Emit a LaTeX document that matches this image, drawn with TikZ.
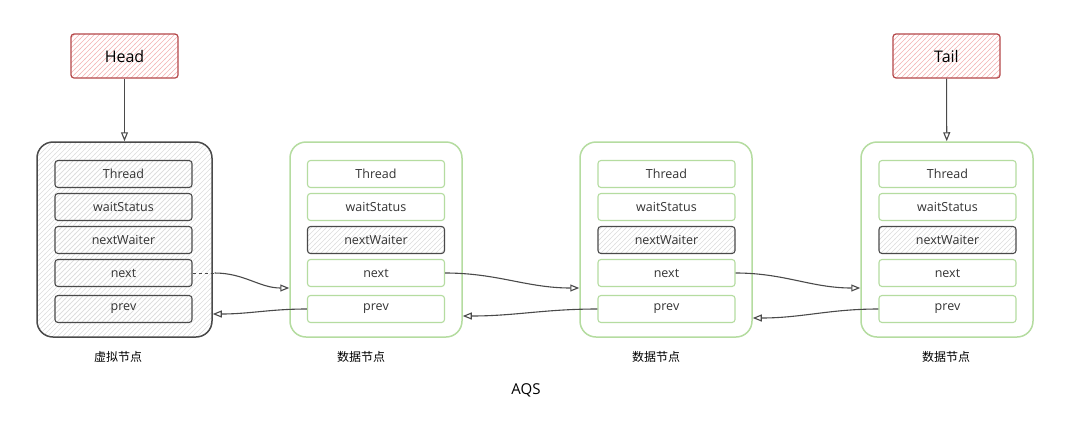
\documentclass[tikz,border=0pt]{standalone}
\usepackage{fontspec}
\setmainfont{Open Sans}
\newfontfamily\cjk{Noto Sans CJK SC}
\usetikzlibrary{arrows.meta,patterns}
\definecolor{headred}{HTML}{B5484A}
\definecolor{headhatch}{HTML}{F4B4B4}
\definecolor{datagreen}{HTML}{B5DCA0}
\definecolor{inkgray}{HTML}{4A4A4A}
\definecolor{greyhatch}{HTML}{DEDEDE}
\definecolor{txt}{HTML}{333333}
\pgfdeclarepatternformonly{hatchlines}{\pgfpoint{-1pt}{-1pt}}{\pgfpoint{6pt}{6pt}}{\pgfpoint{5pt}{5pt}}
  {\pgfsetlinewidth{0.6pt}
   \pgfpathmoveto{\pgfpoint{-0.5pt}{-0.5pt}}\pgfpathlineto{\pgfpoint{5.5pt}{5.5pt}}
   \pgfusepath{stroke}}

\begin{document}
\begin{tikzpicture}[x=1pt,y=-1pt,
  hatch/.style={pattern=hatchlines,pattern color=#1},
  ptr/.style={draw=headred,line width=1.2pt,rounded corners=3pt,hatch=headhatch,
    minimum width=107pt,minimum height=44pt,font=\fontsize{16}{18}\selectfont,text=black},
  ghost/.style={draw=inkgray,line width=1.5pt,rounded corners=16pt,hatch=greyhatch,
    minimum width=175pt,minimum height=195pt},
  data/.style={draw=datagreen,line width=1.5pt,rounded corners=16pt,
    minimum width=172pt,minimum height=195pt},
  field/.style={line width=1.1pt,rounded corners=3pt,minimum width=137pt,minimum height=27pt,
    font=\fontsize{12.5}{14}\selectfont,text=txt},
  gfield/.style={field,draw=inkgray,hatch=greyhatch},
  dfield/.style={field,draw=datagreen},
  nodecap/.style={font=\cjk\fontsize{12}{14}\selectfont,text=black},
  link/.style={draw=inkgray,line width=1.1pt,-{Triangle[open,length=9pt,width=7pt]}}]

  \fill[white] (0,0) rectangle (1080,424);
  \useasboundingbox (0,0) rectangle (1080,424);

  % pointers
  \node[ptr] (head) at (124.5,56) {Head};
  \node[ptr] (tail) at (946.5,56) {Tail};

  % queue nodes
  \node[ghost] (a) at (124.5,239.5) {};
  \node[data] (b) at (376,239.5) {};
  \node[data] (c) at (666,239.5) {};
  \node[data] (d) at (947,239.5) {};

  \foreach \f/\t/\y in {t/Thread/174,w/waitStatus/207,n/nextWaiter/240,x/next/273,p/prev/309}
    \node[gfield] (a\f) at (123.5,\y) {\t};

  \foreach \b/\x in {b/376,c/666.5,d/947.5} {
    \node[dfield] (\b t) at (\x,174) {Thread};
    \node[dfield] (\b w) at (\x,207) {waitStatus};
    \node[gfield] (\b n) at (\x,240) {nextWaiter};
    \node[dfield] (\b x) at (\x,273) {next};
    \node[dfield] (\b p) at (\x,309) {prev};
  }

  \node[nodecap] (la) at (118,357) {虚拟节点};
  \node[nodecap] (lb) at (361,357) {数据节点};
  \node[nodecap] (lc) at (656,357) {数据节点};
  \node[nodecap] (ld) at (946,357) {数据节点};
  \node[font=\fontsize{15}{17}\selectfont] (aqs) at (526,390) {AQS};

  % head / tail
  \draw[link] (head) -- (a);
  \draw[link] (tail) -- (d);

  % next links
  \draw[inkgray,line width=1pt,dashed] (ax.east) -- ++(22,0) coordinate (ax2);
  \draw[link] (ax2) to[out=0,in=180] (b.west |- 0,288);
  \draw[link] (bx.east) to[out=0,in=180] (c.west |- 0,288);
  \draw[link] (cx.east) to[out=0,in=180] (d.west |- 0,288);

  % prev links
  \draw[link] (bp.west) to[out=180,in=0] (a.east |- 0,314);
  \draw[link] (cp.west) to[out=180,in=0] (b.east |- 0,316);
  \draw[link] (dp.west) to[out=180,in=0] (c.east |- 0,318);
\end{tikzpicture}
\end{document}
